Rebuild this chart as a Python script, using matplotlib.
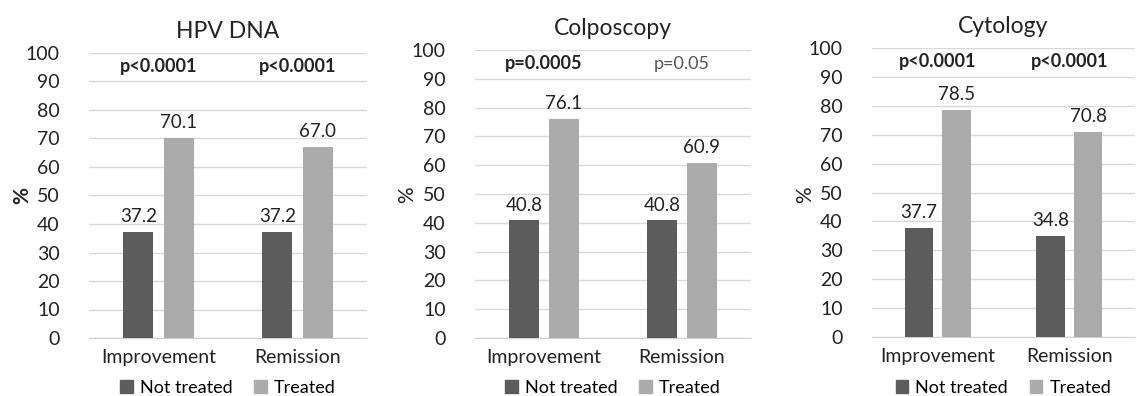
import numpy as np
import matplotlib
matplotlib.use('Agg')
from matplotlib import pyplot as plt
from matplotlib.patches import Patch

plt.rcParams['font.family'] = ['Lato', 'DejaVu Sans']

titles = ['HPV DNA', 'Colposcopy', 'Cytology']
categories = ['Improvement', 'Remission']
not_treated = [[37.2, 37.2], [40.8, 40.8], [37.7, 34.8]]
treated = [[70.1, 67.0], [76.1, 60.9], [78.5, 70.8]]
p_values = [['p<0.0001', 'p<0.0001'], ['p=0.0005', 'p=0.05'], ['p<0.0001', 'p<0.0001']]
p_bold = [[True, True], [True, False], [True, True]]
series_names = ['Not treated', 'Treated']

dark = '#5c5c5c'
light = '#ababab'
W, H = 1137, 396

# axes boxes in pixels: left, top (value 100), right, bottom (value 0)
boxes = [(89, 53, 367, 338), (475, 50, 751, 338), (872, 48, 1135, 337)]
ylab_x = [22, 407, 805]
label_bold = [True, False, False]

fig = plt.figure(figsize=(W / 100, H / 100), dpi=100)

for i in range(3):
    l, t, r, b = boxes[i]
    ax = fig.add_axes([l / W, 1 - b / H, (r - l) / W, (b - t) / H])
    x = np.arange(len(categories))
    w = 0.216
    off = 0.144
    b1 = ax.bar(x - off, not_treated[i], w, color=dark, zorder=3)
    b2 = ax.bar(x + off, treated[i], w, color=light, zorder=3)
    for bars in (b1, b2):
        ax.bar_label(bars, fmt='%.1f', padding=5, fontsize=13.5, color='#222222')
    for j in range(len(categories)):
        ax.text(x[j], 95.3, p_values[i][j], ha='center', va='center', fontsize=13,
                fontweight='bold' if p_bold[i][j] else 'normal',
                color='#222222' if p_bold[i][j] else '#555555')
    ax.set_xlim(-0.5, 1.5)
    ax.set_ylim(0, 100)
    ax.set_yticks(range(0, 101, 10))
    ax.set_xticks(x)
    ax.set_xticklabels(categories, fontsize=14, color='#222222')
    ax.tick_params(axis='y', labelsize=14, length=0, pad=21, colors='#222222')
    ax.tick_params(axis='x', length=0, pad=8)
    ax.grid(axis='y', color='#d9d9d9', linewidth=1, zorder=0)
    for s in ['top', 'right', 'left']:
        ax.spines[s].set_visible(False)
    ax.spines['bottom'].set_color('#d0d0d0')
    ax.set_title(titles[i], fontsize=16.5, color='#222222', pad=11)
    fig.text(ylab_x[i] / W, 1 - 195 / H, '%', rotation=90, ha='center', va='center',
             fontsize=15, fontweight='bold' if label_bold[i] else 'normal', color='#222222')
    handles = [Patch(color=dark), Patch(color=light)]
    fig.legend(handles, series_names, loc='center', ncol=2, frameon=False,
               bbox_to_anchor=((l + r) / 2 / W, 1 - 388 / H), fontsize=13,
               handlelength=0.7, handleheight=0.7, handletextpad=0.4, columnspacing=1.2)

plt.savefig('out.png', dpi=100)
